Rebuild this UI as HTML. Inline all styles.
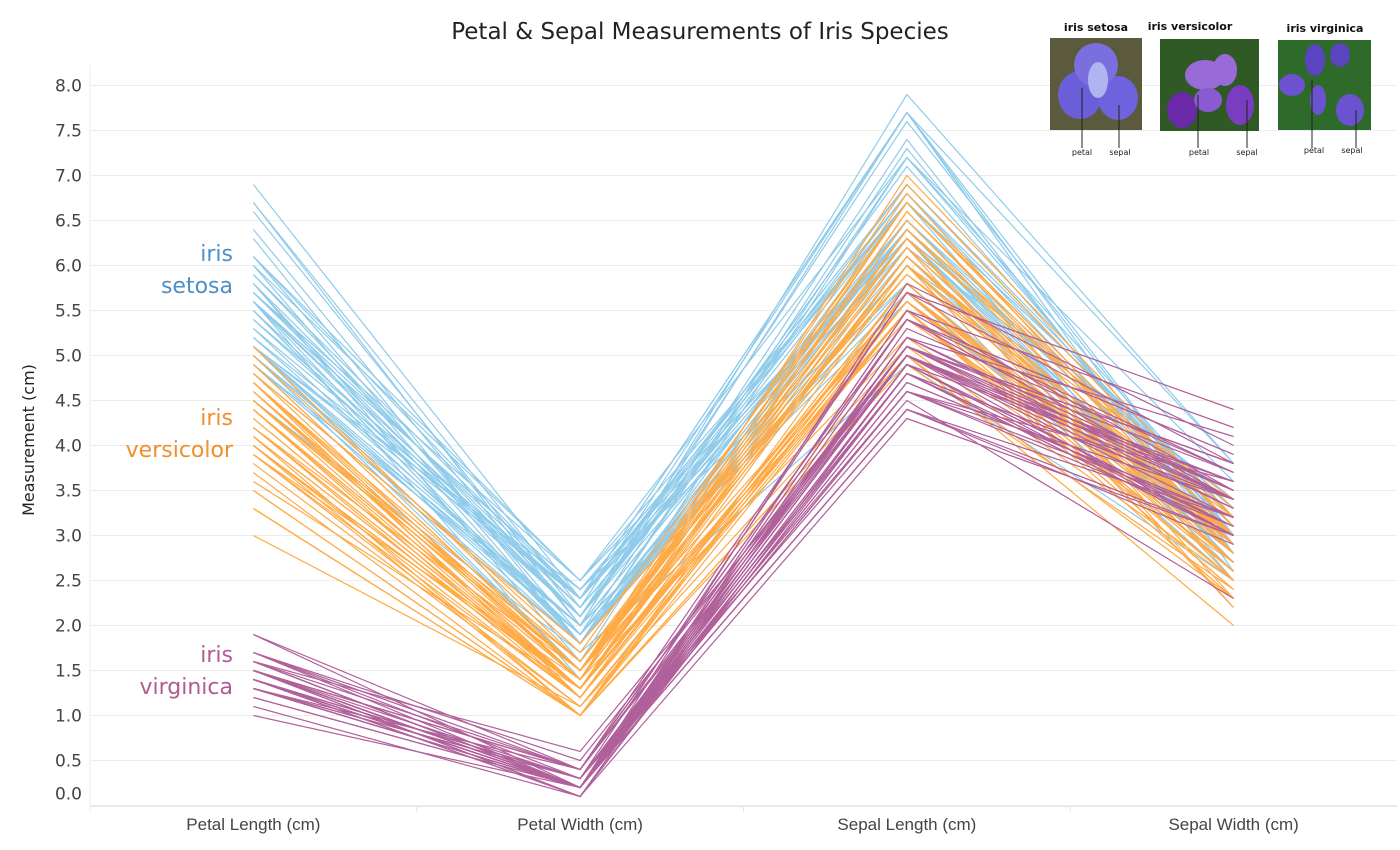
<!DOCTYPE html>
<html><head><meta charset="utf-8">
<style>
body{margin:0;background:#fff;width:1400px;height:845px;overflow:hidden;font-family:"Liberation Sans","DejaVu Sans",sans-serif;}
svg text{font-family:"DejaVu Sans","Liberation Sans",sans-serif;}
</style></head>
<body>
<svg id="chart" width="1400" height="845" xmlns="http://www.w3.org/2000/svg">
<text x="700" y="39" text-anchor="middle" font-size="23" fill="#222">Petal &amp; Sepal Measurements of Iris Species</text>
<text transform="translate(34,440) rotate(-90)" text-anchor="middle" font-size="16" fill="#222">Measurement (cm)</text>
<g id="grid"></g>
<g id="lines"></g>
<g id="labels">
<text x="233" y="261" text-anchor="end" font-size="22" fill="#4e8fc7">iris</text>
<text x="233" y="293" text-anchor="end" font-size="22" fill="#4e8fc7">setosa</text>
<text x="233" y="425" text-anchor="end" font-size="22" fill="#f28e2b">iris</text>
<text x="233" y="457" text-anchor="end" font-size="22" fill="#f28e2b">versicolor</text>
<text x="233" y="662" text-anchor="end" font-size="22" fill="#b15b93">iris</text>
<text x="233" y="694" text-anchor="end" font-size="22" fill="#b15b93">virginica</text>
</g>
<g id="pics">
<text x="1096" y="31" text-anchor="middle" font-size="11" font-weight="bold" fill="#111">iris setosa</text>
<rect x="1050" y="38" width="92" height="92" fill="#5b5a3c"/>
<ellipse cx="1080" cy="95" rx="22" ry="24" fill="#6b5fd9"/><ellipse cx="1118" cy="98" rx="20" ry="22" fill="#6e63dc"/><ellipse cx="1096" cy="65" rx="22" ry="22" fill="#7b6fe0"/><ellipse cx="1098" cy="80" rx="10" ry="18" fill="#b0b4f0"/>
<line x1="1082" y1="88" x2="1082" y2="148" stroke="#222"/><line x1="1119" y1="105" x2="1119" y2="148" stroke="#222"/>
<text x="1082" y="155" text-anchor="middle" font-size="8" fill="#222">petal</text><text x="1120" y="155" text-anchor="middle" font-size="8" fill="#222">sepal</text>
<text x="1190" y="30" text-anchor="middle" font-size="11" font-weight="bold" fill="#111">iris versicolor</text>
<rect x="1160" y="39" width="99" height="92" fill="#2f5a25"/>
<ellipse cx="1182" cy="110" rx="15" ry="18" fill="#6a2aa8"/><ellipse cx="1240" cy="105" rx="14" ry="20" fill="#7a3cc0"/><ellipse cx="1205" cy="75" rx="20" ry="15" fill="#9a6ad8"/><ellipse cx="1225" cy="70" rx="12" ry="16" fill="#9a6ad8"/><ellipse cx="1208" cy="100" rx="14" ry="12" fill="#8a5ad0"/>
<line x1="1198" y1="95" x2="1198" y2="148" stroke="#222"/><line x1="1247" y1="100" x2="1247" y2="148" stroke="#222"/>
<text x="1199" y="155" text-anchor="middle" font-size="8" fill="#222">petal</text><text x="1247" y="155" text-anchor="middle" font-size="8" fill="#222">sepal</text>
<text x="1325" y="32" text-anchor="middle" font-size="11" font-weight="bold" fill="#111">iris virginica</text>
<rect x="1278" y="40" width="93" height="90" fill="#2e6a2a"/>
<ellipse cx="1292" cy="85" rx="13" ry="11" fill="#6a52d0"/><ellipse cx="1350" cy="110" rx="14" ry="16" fill="#6a52d0"/><ellipse cx="1315" cy="60" rx="10" ry="16" fill="#5a44c0"/><ellipse cx="1340" cy="55" rx="10" ry="12" fill="#5a44c0"/><ellipse cx="1318" cy="100" rx="8" ry="15" fill="#6a52d0"/>
<line x1="1312" y1="80" x2="1312" y2="148" stroke="#222"/><line x1="1356" y1="110" x2="1356" y2="148" stroke="#222"/>
<text x="1314" y="153" text-anchor="middle" font-size="8" fill="#222">petal</text><text x="1352" y="153" text-anchor="middle" font-size="8" fill="#222">sepal</text>
</g>
</svg>
<script>
const dimensions = ["Petal Length (cm)","Petal Width (cm)","Sepal Length (cm)","Sepal Width (cm)"];
const yTicks = [0,0.5,1,1.5,2,2.5,3,3.5,4,4.5,5,5.5,6,6.5,7,7.5,8];
// rows: [petalLength, petalWidth, sepalLength, sepalWidth]
const seriesBlue = [[6.0,2.5,6.3,3.3],[5.1,1.9,5.8,2.7],[5.9,2.1,7.1,3.0],[5.6,1.8,6.3,2.9],[5.8,2.2,6.5,3.0],[6.6,2.1,7.6,3.0],[4.5,1.7,4.9,2.5],[6.3,1.8,7.3,2.9],[5.8,1.8,6.7,2.5],[6.1,2.5,7.2,3.6],[5.1,2.0,6.5,3.2],[5.3,1.9,6.4,2.7],[5.5,2.1,6.8,3.0],[5.0,2.0,5.7,2.5],[5.1,2.4,5.8,2.8],[5.3,2.3,6.4,3.2],[5.5,1.8,6.5,3.0],[6.7,2.2,7.7,3.8],[6.9,2.3,7.7,2.6],[5.0,1.5,6.0,2.2],[5.7,2.3,6.9,3.2],[4.9,2.0,5.6,2.8],[6.7,2.0,7.7,2.8],[4.9,1.8,6.3,2.7],[5.7,2.1,6.7,3.3],[6.0,1.8,7.2,3.2],[4.8,1.8,6.2,2.8],[4.9,1.8,6.1,3.0],[5.6,2.1,6.4,2.8],[5.8,1.6,7.2,3.0],[6.1,1.9,7.4,2.8],[6.4,2.0,7.9,3.8],[5.6,2.2,6.4,2.8],[5.1,1.5,6.3,2.8],[5.6,1.4,6.1,2.6],[6.1,2.3,7.7,3.0],[5.6,2.4,6.3,3.4],[5.5,1.8,6.4,3.1],[4.8,1.8,6.0,3.0],[5.4,2.1,6.9,3.1],[5.6,2.4,6.7,3.1],[5.1,2.3,6.9,3.1],[5.1,1.9,5.8,2.7],[5.9,2.3,6.8,3.2],[5.7,2.5,6.7,3.3],[5.2,2.3,6.7,3.0],[5.0,1.9,6.3,2.5],[5.2,2.0,6.5,3.0],[5.4,2.3,6.2,3.4],[5.1,1.8,5.9,3.0]];
const seriesOrange = [[4.7,1.4,7.0,3.2],[4.5,1.5,6.4,3.2],[4.9,1.5,6.9,3.1],[4.0,1.3,5.5,2.3],[4.6,1.5,6.5,2.8],[4.5,1.3,5.7,2.8],[4.7,1.6,6.3,3.3],[3.3,1.0,4.9,2.4],[4.6,1.3,6.6,2.9],[3.9,1.4,5.2,2.7],[3.5,1.0,5.0,2.0],[4.2,1.5,5.9,3.0],[4.0,1.0,6.0,2.2],[4.7,1.4,6.1,2.9],[3.6,1.3,5.6,2.9],[4.4,1.4,6.7,3.1],[4.5,1.5,5.6,3.0],[4.1,1.0,5.8,2.7],[4.5,1.5,6.2,2.2],[3.9,1.1,5.6,2.5],[4.8,1.8,5.9,3.2],[4.0,1.3,6.1,2.8],[4.9,1.5,6.3,2.5],[4.7,1.2,6.1,2.8],[4.3,1.3,6.4,2.9],[4.4,1.4,6.6,3.0],[4.8,1.4,6.8,2.8],[5.0,1.7,6.7,3.0],[4.5,1.5,6.0,2.9],[3.5,1.0,5.7,2.6],[3.8,1.1,5.5,2.4],[3.7,1.0,5.5,2.4],[3.9,1.2,5.8,2.7],[5.1,1.6,6.0,2.7],[4.5,1.5,5.4,3.0],[4.5,1.6,6.0,3.4],[4.7,1.5,6.7,3.1],[4.4,1.3,6.3,2.3],[4.1,1.3,5.6,3.0],[4.0,1.3,5.5,2.5],[4.4,1.2,5.5,2.6],[4.6,1.4,6.1,3.0],[4.0,1.2,5.8,2.6],[3.3,1.0,5.0,2.3],[4.2,1.3,5.6,2.7],[4.2,1.2,5.7,3.0],[4.2,1.3,5.7,2.9],[4.3,1.3,6.2,2.9],[3.0,1.1,5.1,2.5],[4.1,1.3,5.7,2.8]];
const seriesPurple = [[1.4,0.2,5.1,3.5],[1.4,0.2,4.9,3.0],[1.3,0.2,4.7,3.2],[1.5,0.2,4.6,3.1],[1.4,0.2,5.0,3.6],[1.7,0.4,5.4,3.9],[1.4,0.3,4.6,3.4],[1.5,0.2,5.0,3.4],[1.4,0.2,4.4,2.9],[1.5,0.1,4.9,3.1],[1.5,0.2,5.4,3.7],[1.6,0.2,4.8,3.4],[1.4,0.1,4.8,3.0],[1.1,0.1,4.3,3.0],[1.2,0.2,5.8,4.0],[1.5,0.4,5.7,4.4],[1.3,0.4,5.4,3.9],[1.4,0.3,5.1,3.5],[1.7,0.3,5.7,3.8],[1.5,0.3,5.1,3.8],[1.7,0.2,5.4,3.4],[1.5,0.4,5.1,3.7],[1.0,0.2,4.6,3.6],[1.7,0.5,5.1,3.3],[1.9,0.2,4.8,3.4],[1.6,0.2,5.0,3.0],[1.6,0.4,5.0,3.4],[1.5,0.2,5.2,3.5],[1.4,0.2,5.2,3.4],[1.6,0.2,4.7,3.2],[1.6,0.2,4.8,3.1],[1.5,0.4,5.4,3.4],[1.5,0.1,5.2,4.1],[1.4,0.2,5.5,4.2],[1.5,0.2,4.9,3.1],[1.2,0.2,5.0,3.2],[1.3,0.2,5.5,3.5],[1.4,0.1,4.9,3.6],[1.3,0.2,4.4,3.0],[1.5,0.2,5.1,3.4],[1.3,0.3,5.0,3.5],[1.3,0.3,4.5,2.3],[1.3,0.2,4.4,3.2],[1.6,0.6,5.0,3.5],[1.9,0.4,5.1,3.8],[1.4,0.3,4.8,3.0],[1.6,0.2,5.1,3.8],[1.4,0.2,4.6,3.2],[1.5,0.2,5.3,3.7],[1.4,0.2,5.0,3.3]];

const NS="http://www.w3.org/2000/svg";
const plotLeft=90, plotRight=1397, bandW=(plotRight-plotLeft)/dimensions.length;
function xPos(i){return plotLeft+bandW*(i+0.5);}
function yPos(v){return 805.5-90*v;}
const grid=document.getElementById('grid');
yTicks.forEach(t=>{
  const l=document.createElementNS(NS,'line');
  l.setAttribute('x1',plotLeft);l.setAttribute('x2',plotRight);
  l.setAttribute('y1',yPos(t));l.setAttribute('y2',yPos(t));
  l.setAttribute('stroke','#ececec');l.setAttribute('stroke-width','1');
  
  
  grid.appendChild(l);
  const tx=document.createElementNS(NS,'text');
  tx.setAttribute('x',82);tx.setAttribute('y',yPos(t)+6-(t===0?12:0));
  tx.setAttribute('text-anchor','end');tx.setAttribute('font-size','17');tx.setAttribute('fill','#444');
  tx.textContent=t.toFixed(1);
  
  
  grid.appendChild(tx);
});
const vl=document.createElementNS(NS,'line');
vl.setAttribute('x1',plotLeft);vl.setAttribute('x2',plotLeft);vl.setAttribute('y1',65);vl.setAttribute('y2',812);
vl.setAttribute('stroke','#eee');


grid.appendChild(vl);
const bl=document.createElementNS(NS,'line');
bl.setAttribute('x1',plotLeft);bl.setAttribute('x2',plotRight);bl.setAttribute('y1',806.5);bl.setAttribute('y2',806.5);
bl.setAttribute('stroke','#e6e6e6');


grid.appendChild(bl);
dimensions.forEach((d,i)=>{
  const tx=document.createElementNS(NS,'text');
  tx.setAttribute('x',xPos(i));tx.setAttribute('y',830);
  tx.setAttribute('text-anchor','middle');tx.setAttribute('font-size','17');tx.setAttribute('fill','#444');
  tx.setAttribute('style','font-family:"Liberation Sans",sans-serif');
  tx.textContent=d;
  
  
  grid.appendChild(tx);
  if(i>0){
    const s=document.createElementNS(NS,'line');
    s.setAttribute('x1',plotLeft+bandW*i);s.setAttribute('x2',plotLeft+bandW*i);s.setAttribute('y1',806);s.setAttribute('y2',812);
    s.setAttribute('stroke','#e6e6e6');
    
    
    grid.appendChild(s);
  }
});
const lines=document.getElementById('lines');
function draw(series,color,name){
  series.forEach(r=>{
    const p=document.createElementNS(NS,'polyline');
    p.setAttribute('points',r.map((v,i)=>xPos(i)+','+yPos(v)).join(' '));
    p.setAttribute('fill','none');p.setAttribute('stroke',color);p.setAttribute('stroke-width','1.2');
    
    
    lines.appendChild(p);
  });
}
draw(seriesBlue,'#8fcbea','series-line-blue');
draw(seriesOrange,'#ffaa45','series-line-orange');
draw(seriesPurple,'#b0609a','series-line-purple');
</script>
</body></html>
